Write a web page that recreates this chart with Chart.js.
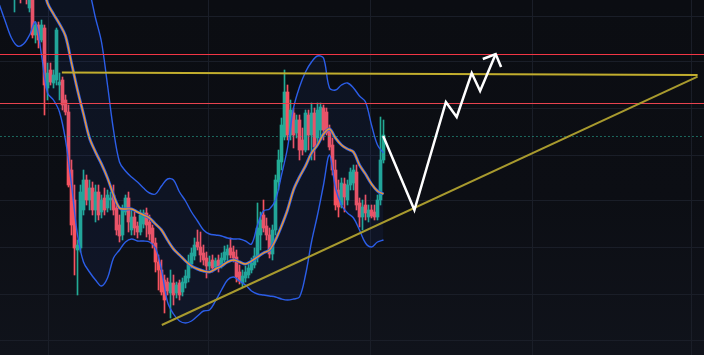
<!DOCTYPE html>
<html>
<head>
<meta charset="utf-8">
<style>
html,body{margin:0;padding:0;background:#0b0d12;}
#wrap{width:704px;height:355px;background:linear-gradient(#0b0d12 0%,#0c0e14 55%,#10131b 100%);}
canvas{display:block;}
</style>
<script src="https://cdn.jsdelivr.net/npm/chart.js@4.4.1/dist/chart.umd.min.js"></script>
</head>
<body>
<div id="wrap"><canvas id="chart" width="704" height="355"></canvas></div>
<script>
// ====== candles (one per bar, bar 0 at the left edge) ======
const candleOpen = [
  4.40,4.30,4.45,4.55,4.35,4.05,4.25,4.15,4.10,4.20,
  3.92,4.00,3.65,3.75,3.60,3.72,3.12,3.30,3.17,3.20,
  3.15,3.20,3.00,2.88,2.30,2.00,1.50,1.52,1.90,2.20,
  2.00,2.12,1.90,2.08,1.88,2.02,1.92,2.00,2.05,1.92,
  1.75,1.65,1.88,2.02,1.70,1.83,1.74,1.68,1.76,1.87,
  1.78,1.72,1.57,1.38,1.30,1.20,1.18,1.07,1.17,1.07,
  1.17,1.08,1.17,1.22,1.36,1.44,1.58,1.53,1.47,1.42,
  1.34,1.40,1.33,1.40,1.34,1.40,1.45,1.52,1.48,1.43,
  1.28,1.17,1.22,1.25,1.30,1.35,1.42,1.65,1.85,1.74,
  1.65,1.46,1.70,2.18,2.38,2.63,3.08,2.65,2.87,2.67,
  2.80,2.60,2.50,2.85,2.65,2.87,2.62,2.70,2.92,2.88,
  2.70,2.55,2.30,2.10,1.95,2.16,2.00,2.15,2.17,2.28,
  1.97,1.83,1.95,1.83,1.90,1.88,1.83,2.00,2.40
];
const candleHigh = [
  4.60,4.50,4.70,4.75,4.50,4.40,4.45,4.30,4.25,4.30,
  4.08,4.03,3.78,3.78,3.80,3.75,3.37,3.37,3.30,3.72,
  3.27,3.23,3.05,2.95,2.40,2.15,1.60,2.15,2.30,2.25,
  2.20,2.18,2.15,2.15,2.05,2.12,2.10,2.08,2.15,1.95,
  1.85,1.95,2.05,2.08,1.90,1.88,1.78,1.90,1.90,1.92,
  1.85,1.75,1.62,1.45,1.40,1.25,1.22,1.30,1.25,1.18,
  1.20,1.22,1.30,1.45,1.52,1.62,1.70,1.68,1.55,1.48,
  1.44,1.45,1.42,1.45,1.47,1.54,1.55,1.62,1.54,1.50,
  1.35,1.30,1.34,1.38,1.42,1.52,1.97,1.88,2.00,1.82,
  1.72,1.75,2.25,2.50,2.82,3.30,3.15,3.00,2.92,2.85,
  2.85,2.72,2.90,2.90,2.97,2.92,2.97,2.97,2.95,2.92,
  2.75,2.62,2.40,2.20,2.22,2.22,2.20,2.32,2.35,2.35,
  2.02,2.00,2.05,1.95,1.95,1.95,2.05,2.83,2.80
];
const candleLow = [
  4.20,4.15,4.35,4.30,4.10,3.88,4.05,3.97,4.02,3.96,
  3.88,3.62,3.57,3.52,3.58,2.85,3.00,3.15,3.12,3.15,
  3.00,2.90,2.85,2.13,1.65,1.25,1.05,1.48,1.85,1.95,
  1.90,1.85,1.78,1.80,1.82,1.85,1.88,1.90,1.85,1.65,
  1.58,1.60,1.85,1.68,1.65,1.65,1.62,1.65,1.72,1.63,
  1.60,1.52,1.28,1.10,1.05,0.87,1.05,0.82,0.95,1.02,
  1.00,1.04,1.12,1.18,1.32,1.40,1.50,1.38,1.35,1.22,
  1.30,1.28,1.30,1.28,1.32,1.38,1.38,1.42,1.38,1.18,
  1.16,1.13,1.18,1.22,1.27,1.32,1.38,1.50,1.68,1.60,
  1.42,1.40,1.65,2.10,2.30,2.60,2.60,2.60,2.52,2.62,
  2.40,2.45,2.48,2.50,2.40,2.40,2.55,2.60,2.60,2.65,
  2.50,2.25,1.90,1.83,1.92,1.88,1.95,2.10,2.10,1.90,
  1.73,1.70,1.80,1.78,1.82,1.80,1.80,1.95,2.37
];
const candleClose = [
  4.30,4.45,4.55,4.35,4.20,4.25,4.15,4.10,4.20,4.05,
  4.00,3.65,3.75,3.60,3.75,3.15,3.27,3.18,3.25,3.70,
  3.18,2.95,2.88,2.15,1.75,1.52,1.55,2.08,2.20,2.00,
  2.12,1.90,2.08,1.85,2.00,1.90,2.05,2.02,1.90,1.70,
  1.64,1.90,2.02,1.78,1.83,1.72,1.68,1.85,1.87,1.75,
  1.66,1.57,1.38,1.30,1.08,1.00,1.09,1.17,1.05,1.15,
  1.05,1.18,1.24,1.38,1.47,1.55,1.53,1.45,1.40,1.34,
  1.38,1.32,1.39,1.34,1.42,1.48,1.51,1.45,1.42,1.23,
  1.19,1.24,1.28,1.32,1.37,1.44,1.72,1.80,1.72,1.65,
  1.46,1.70,2.20,2.40,2.75,3.08,2.65,2.90,2.65,2.80,
  2.50,2.50,2.87,2.65,2.87,2.53,2.90,2.93,2.70,2.67,
  2.53,2.30,1.95,1.93,2.17,2.03,2.15,2.28,2.30,1.95,
  1.83,1.93,1.87,1.90,1.84,1.83,2.00,2.40,2.65
];

// ====== Bollinger bands, read every 2 bars ======
const bandStep = 2;
const bandUpper = [
  4.60,4.60,4.60,4.60,4.60,4.58,4.55,4.52,4.50,4.48,
  4.45,4.42,4.38,4.32,4.22,4.08,3.82,3.58,3.15,2.70,
  2.38,2.29,2.23,2.18,2.12,2.07,2.06,2.14,2.21,2.20,
  2.08,1.99,1.88,1.79,1.70,1.66,1.65,1.64,1.62,1.61,
  1.61,1.59,1.56,1.75,1.89,1.91,2.00,2.25,2.52,2.92,
  3.13,3.28,3.38,3.44,3.42,3.12,3.10,3.15,3.17,3.12,
  3.04,2.98,2.75,2.55,2.47
];
const bandBasis = [
  5.30,5.20,5.05,4.90,4.75,4.58,4.40,4.20,3.97,3.86,
  3.76,3.64,3.37,3.10,2.86,2.62,2.48,2.36,2.22,2.05,
  1.92,1.91,1.91,1.88,1.85,1.82,1.76,1.70,1.60,1.51,
  1.45,1.39,1.34,1.31,1.29,1.28,1.31,1.34,1.38,1.40,
  1.38,1.36,1.39,1.43,1.47,1.50,1.60,1.74,1.90,2.10,
  2.23,2.34,2.47,2.55,2.66,2.71,2.62,2.55,2.51,2.48,
  2.35,2.26,2.16,2.09,2.06
];
const bandLower = [
  3.95,3.78,3.62,3.54,3.56,3.65,3.78,3.45,3.07,3.00,
  2.88,2.60,2.15,1.65,1.38,1.28,1.20,1.14,1.22,1.42,
  1.50,1.58,1.61,1.59,1.59,1.58,1.52,1.30,0.98,0.86,
  0.79,0.77,0.79,0.84,0.89,0.90,0.99,1.10,1.20,1.23,
  1.19,1.15,1.09,1.06,1.05,1.04,1.03,1.01,1.00,1.01,
  1.03,1.25,1.58,1.85,2.15,2.45,2.12,1.95,1.87,1.82,
  1.70,1.57,1.53,1.58,1.60
];

// ====== drawings ======
const resistanceLevels = [3.455, 2.965];
const dottedLevel = 2.635;
const flatTop = [[20.8, 3.275], [232.7, 3.25]];
const risingSupport = [[54.1, 0.75], [232.7, 3.233]];
const projectionPath = [[127.9, 2.64], [138.3, 1.90], [148.8, 2.98], [152.4, 2.83], [157.4, 3.27], [160.2, 3.09], [165.4, 3.46]];
const arrowHead = [[161.1, 3.41], [165.4, 3.46], [167.2, 3.33]];

const gridPrices = [3.84, 3.38, 2.92, 2.45, 1.99, 1.53, 1.06, 0.60];
const gridBars = [16.5, 69.8, 123.5, 177.5, 230.8];

const upColor = "#22ab94";
const downColor = "#f7525f";
const gridColor = "#1a1e28";

const candleColors = candleOpen.map((o, i) => candleClose[i] >= o ? upColor : downColor);
const bodies = candleOpen.map((o, i) => ({x: i, y: [o, candleClose[i]]}));
const wicks = candleOpen.map((o, i) => ({x: i, y: [candleLow[i], candleHigh[i]]}));
const band = arr => arr.map((v, k) => ({x: k * bandStep, y: v}));
const pts = arr => arr.map(p => ({x: p[0], y: p[1]}));
const level = v => [{x: -1, y: v}, {x: 240, y: v}];

function line(data, color, width, order, extra) {
  return Object.assign({
    type: "line", data: data, borderColor: color, borderWidth: width,
    pointRadius: 0, fill: false, tension: 0, order: order
  }, extra || {});
}

new Chart(document.getElementById("chart"), {
  type: "bar",
  data: {
    datasets: [
      line(pts(projectionPath), "#ffffff", 2.5, 0, {borderJoinStyle: "miter"}),
      line(pts(arrowHead), "#ffffff", 2.5, 0, {borderJoinStyle: "miter"}),
      line(pts(flatTop), "#c2ae2e", 2, 1),
      line(pts(risingSupport), "#a89a2e", 2, 1),
      line(level(resistanceLevels[0]), "#f23645", 1, 2),
      line(level(resistanceLevels[1]), "#e8434f", 1, 2),
      line(level(dottedLevel), "#2bbfa5", 1, 2, {borderDash: [1, 3]}),
      line(band(bandBasis), "#2c5ee8", 3, 4, {tension: 0.35}),
      line(band(bandBasis), "#f0962a", 1.4, 3, {tension: 0.35}),
      line(band(bandUpper), "#2c5ee8", 1.4, 5, {tension: 0.35, fill: "+1", backgroundColor: "rgba(45,95,235,0.07)"}),
      line(band(bandLower), "#2c5ee8", 1.4, 5, {tension: 0.35}),
      {
        data: bodies, backgroundColor: candleColors, borderWidth: 0,
        barThickness: 3, minBarLength: 1, grouped: false, order: 6
      },
      {
        data: wicks, backgroundColor: candleColors, borderWidth: 0,
        barThickness: 1, grouped: false, order: 7
      }
    ]
  },
  options: {
    responsive: false,
    animation: false,
    devicePixelRatio: 1,
    events: [],
    layout: {padding: 0},
    plugins: {legend: {display: false}, tooltip: {enabled: false}},
    scales: {
      x: {
        // 3 px per bar so candle bodies land on whole pixels
        type: "linear", min: 0.1667, max: 234.8333, offset: false,
        ticks: {display: false},
        grid: {color: gridColor, drawTicks: false, offset: false},
        border: {display: false},
        afterBuildTicks: s => { s.ticks = gridBars.map(v => ({value: v})); }
      },
      y: {
        min: 0.45, max: 4.0,
        ticks: {display: false},
        grid: {color: gridColor, drawTicks: false},
        border: {display: false},
        afterBuildTicks: s => { s.ticks = gridPrices.map(v => ({value: v})); }
      }
    }
  }
});
</script>
</body>
</html>
